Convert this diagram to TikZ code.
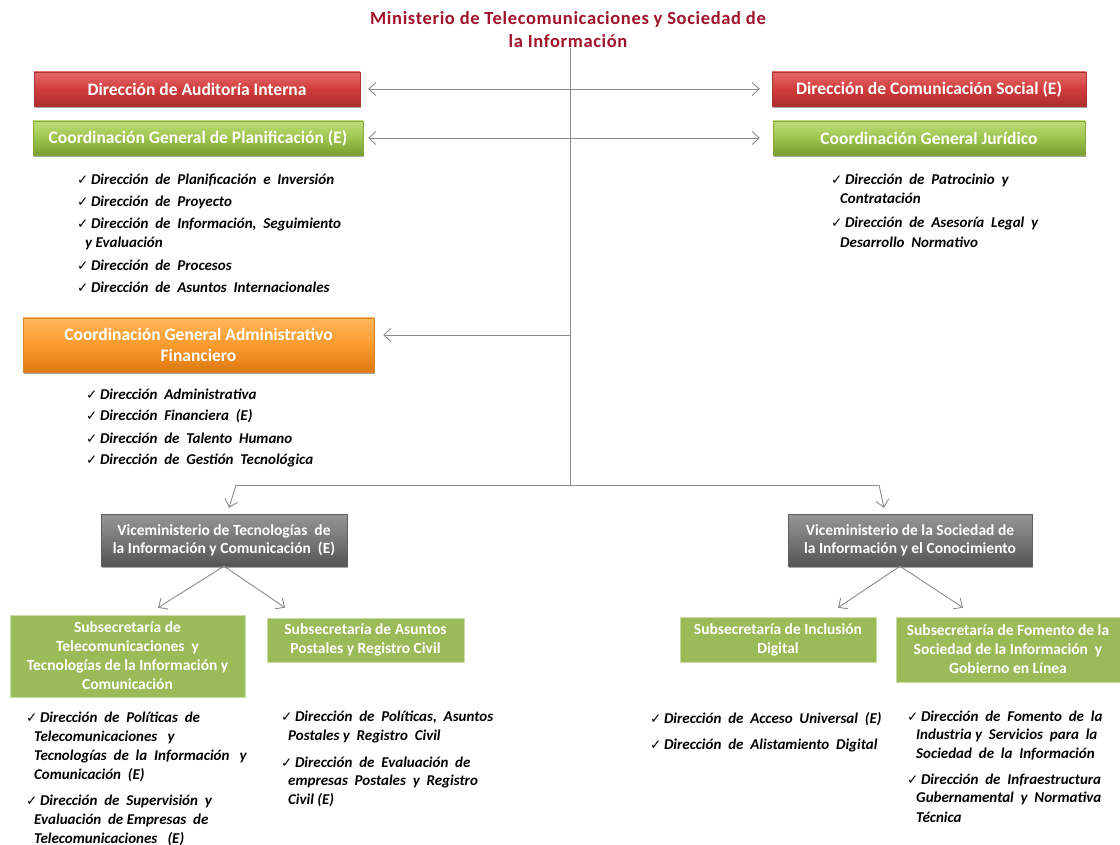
\documentclass[tikz,border=0pt]{standalone}
\usepackage{fontspec}
\setmainfont{Carlito}
\newfontfamily\dejavu{DejaVu Sans}
\usetikzlibrary{arrows.meta,shadows}
\newcommand\ck{{\dejavu\fontsize{13.5}{13.5}\selectfont\char"2713}\hspace{2.5pt}}
\definecolor{titlered}{HTML}{A0142B}
\definecolor{arrgray}{HTML}{8C8C8C}
\definecolor{flatgreen}{HTML}{9BBB59}
\definecolor{HTML_B02E2E}{HTML}{B02E2E}\definecolor{HTML_D24646}{HTML}{D03C3C}\definecolor{HTML_A83434}{HTML}{A83434}\definecolor{HTML_E87272}{HTML}{E86A6A}
\definecolor{HTML_BEDD76}{HTML}{BEDD76}\definecolor{HTML_7A9E30}{HTML}{7A9E30}\definecolor{HTML_9DC44E}{HTML}{9DC44E}\definecolor{HTML_86A83C}{HTML}{86A83C}
\definecolor{HTML_FFB65A}{HTML}{FFB65A}\definecolor{HTML_DE7810}{HTML}{DE7810}\definecolor{HTML_FA9B2E}{HTML}{FA9B2E}\definecolor{HTML_D8832A}{HTML}{D8832A}
\definecolor{HTML_959595}{HTML}{959595}\definecolor{HTML_555555}{HTML}{555555}\definecolor{HTML_777777}{HTML}{777777}\definecolor{HTML_606060}{HTML}{606060}
\definecolor{HTML_C9DBA6}{HTML}{C9DBA6}
\begin{document}
\begin{tikzpicture}[x=1pt,y=-1pt,
  every node/.style={inner sep=0pt},
  arr/.style={draw=arrgray, line width=0.9pt, -{Straight Barb[length=7pt,width=13pt]}},
  dbl/.style={draw=arrgray, line width=0.9pt, {Straight Barb[length=7pt,width=13pt]}-{Straight Barb[length=7pt,width=13pt]}},
  trunkline/.style={draw=arrgray, line width=0.9pt},
  topbox/.style={minimum width=#1, align=center, text=white,
     font=\fontsize{17.5}{21}\selectfont\bfseries,
     drop shadow={shadow xshift=0.6pt, shadow yshift=-2pt, opacity=0.35, fill=black}},
  redbox/.style={topbox=#1, top color=HTML_E87272, bottom color=HTML_B02E2E, middle color=HTML_D24646, draw=HTML_A83434, line width=0.4pt},
  greenbox/.style={topbox=#1, top color=HTML_BEDD76, bottom color=HTML_7A9E30, middle color=HTML_9DC44E, draw=HTML_86A83C, line width=0.4pt},
  orangebox/.style={topbox=#1, top color=HTML_FFB65A, bottom color=HTML_DE7810, middle color=HTML_FA9B2E, draw=HTML_D8832A, line width=0.4pt},
  graybox/.style={topbox=#1, top color=HTML_959595, bottom color=HTML_555555, middle color=HTML_777777, draw=HTML_606060, line width=0.4pt,
     font=\fontsize{15.5}{18}\selectfont\bfseries},
  subbox/.style={minimum width=#1, align=center, text=white, fill=flatgreen, draw=HTML_C9DBA6, line width=0.6pt,
     font=\fontsize{15.5}{19}\selectfont\bfseries},
  item/.style={anchor=west, font=\fontsize{15}{17}\selectfont\bfseries\itshape, text=black}
]
\useasboundingbox[fill=white] (0,0) rectangle (1120,845);

% title
\node[align=center, text=titlered, font=\fontsize{18.5}{23}\selectfont\bfseries\addfontfeature{LetterSpace=3.5}] (title) at (568,30)
  {Ministerio de Telecomunicaciones y Sociedad de\\la Información};

% top boxes
\node[redbox=326pt, minimum height=34pt] (audit) at (197,89) {Dirección de Auditoría Interna};
\node[redbox=314pt, minimum height=34pt] (comm) at (929,89) {Dirección de Comunicación Social (E)};
\node[greenbox=330pt, minimum height=34pt] (plan) at (198,138) {Coordinación General de Planificación (E)};
\node[greenbox=312pt, minimum height=34pt] (jur) at (929,138) {Coordinación General Jurídico};
\node[orangebox=351pt, minimum height=54pt] (admin) at (198.5,345) {Coordinación General Administrativo\\Financiero};

% viceministerios
\node[graybox=246pt, minimum height=52pt] (vtic) at (224,540) {Viceministerio de Tecnologías\ \ de\\la Información y Comunicación\ \ (E)};
\node[graybox=244pt, minimum height=52pt] (vsoc) at (910,540) {Viceministerio de la Sociedad de\\la Información y el Conocimiento};

% subsecretarias
\node[subbox=235pt, minimum height=82pt] (stel) at (127.5,656) {Subsecretaría de\\Telecomunicaciones\ \ y\\Tecnologías de la Información y\\Comunicación};
\node[subbox=197pt, minimum height=44pt] (spost) at (365.5,640) {Subsecretaría de Asuntos\\Postales y Registro Civil};
\node[subbox=196pt, minimum height=45pt] (sinc) at (778,639.5) {Subsecretaría de Inclusión\\Digital};
\node[subbox=224pt, minimum height=65pt] (sfom) at (1008,649.5) {Subsecretaría de Fomento de la\\Sociedad de la Información\ \ y\\Gobierno en Línea};

% connectors
\coordinate (junc) at (570,485);
\coordinate (bl) at (236,485);
\coordinate (br) at (879,485);
\draw[trunkline] (title.south -| junc) -- (junc);
\draw[dbl, shorten <=8pt, shorten >=12pt] (audit.east) -- (comm.west);
\draw[dbl, shorten <=5pt, shorten >=13pt] (plan.east) -- (jur.west);
\draw[arr, shorten >=9pt] ([yshift=10pt]admin.east -| junc) -- ([yshift=10pt]admin.east);
\draw[trunkline] (bl) -- (br);
\draw[arr] (bl) -- ([xshift=5pt,yshift=6pt]vtic.north);
\draw[arr] (br) -- ([xshift=-26pt,yshift=6pt]vsoc.north);
\draw[arr] (vtic.south) -- ([xshift=30.5pt,yshift=7pt]stel.north);
\draw[arr] (vtic.south) -- ([xshift=-80.5pt,yshift=10pt]spost.north);
\draw[arr] ([xshift=-10pt]vsoc.south) -- ([xshift=60pt,yshift=9pt]sinc.north);
\draw[arr] ([xshift=-10pt]vsoc.south) -- ([xshift=-45pt,yshift=9pt]sfom.north);

% lists
\foreach \x/\y/\t [count=\i] in {
  77/180/{\ck Dirección\ \ de\ \ Planificación\ \ e\ \ Inversión},
  77/202/{\ck Dirección\ \ de\ \ Proyecto},
  77/225/{\ck Dirección\ \ de\ \ Información,\ \ Seguimiento},
  85/243/{y Evaluación},
  77/265/{\ck Dirección\ \ de\ \ Procesos},
  77/287/{\ck Dirección\ \ de\ \ Asuntos\ \ Internacionales}}
  \node[item] (pl\i) at (\x,\y) {\t};

\foreach \x/\y/\t [count=\i] in {
  831/180/{\ck Dirección\ \ de\ \ Patrocinio\ \ y},
  840/198/{Contratación},
  831/224/{\ck Dirección\ \ de\ \ Asesoría\ \ Legal\ \ y},
  840/242/{Desarrollo\ \ Normativo}}
  \node[item] (ju\i) at (\x,\y) {\t};

\foreach \x/\y/\t [count=\i] in {
  86/394/{\ck Dirección\ \ Administrativa},
  86/416/{\ck Dirección\ \ Financiera\ \ (E)},
  86/438/{\ck Dirección\ \ de\ \ Talento\ \ Humano},
  86/460/{\ck Dirección\ \ de\ \ Gestión\ \ Tecnológica}}
  \node[item] (ad\i) at (\x,\y) {\t};

\foreach \x/\y/\t [count=\i] in {
  26/717/{\ck Dirección\ \ de\ \ Políticas\ \ de},
  34/737/{Telecomunicaciones\ \ \ y},
  34/756/{Tecnologías\ \ de\ \ la\ \ Información\ \ \ y},
  34/775/{Comunicación\ \ (E)},
  26/801/{\ck Dirección\ \ de\ \ Supervisión\ \ y},
  34/820/{Evaluación\ \ de\ Empresas\ \ de},
  34/839/{Telecomunicaciones\ \ \ (E)}}
  \node[item] (te\i) at (\x,\y) {\t};

\foreach \x/\y/\t [count=\i] in {
  281/717/{\ck Dirección\ \ de\ \ Políticas,\ \ Asuntos},
  288/736/{Postales y\ \ Registro\ \ Civil},
  281/762/{\ck Dirección\ \ de\ \ Evaluación\ \ de},
  288/781/{empresas\ \ Postales\ \ y\ \ Registro},
  288/800/{Civil (E)}}
  \node[item] (po\i) at (\x,\y) {\t};

\foreach \x/\y/\t [count=\i] in {
  650/719/{\ck Dirección\ \ de\ \ Acceso\ \ Universal\ \ (E)},
  650/745/{\ck Dirección\ \ de\ \ Alistamiento\ \ Digital}}
  \node[item] (in\i) at (\x,\y) {\t};

\foreach \x/\y/\t [count=\i] in {
  907/716/{\ck Dirección\ \ de\ \ Fomento\ \ de\ \ la},
  916/735/{Industria y\ \ Servicios\ \ para\ \ la},
  916/754/{Sociedad\ \ de\ \ la\ \ Información},
  907/780/{\ck Dirección\ \ de\ \ Infraestructura},
  916/798/{Gubernamental\ \ y\ \ Normativa},
  916/817/{Técnica}}
  \node[item] (fo\i) at (\x,\y) {\t};
\end{tikzpicture}
\end{document}
